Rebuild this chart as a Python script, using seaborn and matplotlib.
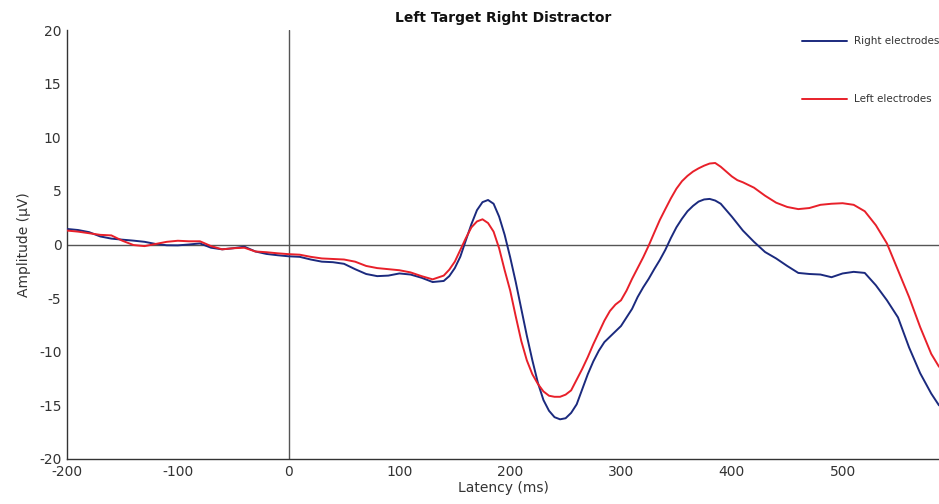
import numpy as np
import pandas as pd
import matplotlib
matplotlib.use("Agg")
import matplotlib.pyplot as plt
import seaborn as sns

# ---- data ----
latency_ms = ([-200, -190, -180, -170, -160, -150, -140, -130, -120, -110,
               -100, -90, -80, -70, -60, -50, -40, -30, -20, -10,
               0, 10, 20, 30, 40, 50, 60, 70, 80, 90,
               100, 110, 120, 130]
              + [140, 145, 150, 155, 160, 165, 170, 175, 180, 185,
                 190, 195, 200, 205, 210, 215, 220, 225, 230, 235,
                 240, 245, 250, 255, 260, 265, 270, 275, 280, 285,
                 290, 295, 300, 305, 310, 315, 320, 325, 330, 335,
                 340, 345, 350, 355, 360, 365, 370, 375, 380, 385,
                 390, 395, 400, 405, 410]
              + [420, 430, 440, 450, 460, 470, 480, 490, 500, 510,
                 520, 530, 540, 550, 560, 570, 580, 587])

right_electrodes = ([1.45, 1.35, 1.15, 0.75, 0.55, 0.45, 0.36, 0.25, 0.05, -0.07,
                     -0.08, 0.0, 0.1, -0.3, -0.45, -0.35, -0.2, -0.65, -0.88, -1.0,
                     -1.1, -1.15, -1.4, -1.6, -1.65, -1.8, -2.3, -2.75, -2.95, -2.9,
                     -2.7, -2.8, -3.1, -3.5]
                    + [-3.4, -2.95, -2.2, -1.13, 0.4, 1.9, 3.2, 3.95, 4.15, 3.8,
                       2.6, 0.9, -1.2, -3.5, -6.0, -8.5, -10.8, -12.9, -14.5, -15.5,
                       -16.1, -16.3, -16.2, -15.7, -14.9, -13.5, -12.1, -10.9, -9.9, -9.1,
                       -8.6, -8.1, -7.6, -6.8, -6.0, -4.9, -4.0, -3.2, -2.3, -1.45,
                       -0.5, 0.6, 1.6, 2.4, 3.1, 3.6, 4.0, 4.2, 4.25, 4.1,
                       3.8, 3.2, 2.6, 1.95, 1.3]
                    + [0.25, -0.7, -1.3, -2.0, -2.65, -2.75, -2.8, -3.05, -2.7, -2.55,
                       -2.65, -3.8, -5.2, -6.8, -9.6, -12.0, -13.9, -15.0])

left_electrodes = ([1.3, 1.2, 1.05, 0.9, 0.85, 0.35, -0.05, -0.15, 0.05, 0.25,
                    0.35, 0.3, 0.3, -0.15, -0.45, -0.35, -0.3, -0.65, -0.72, -0.82,
                    -0.9, -0.95, -1.15, -1.3, -1.35, -1.4, -1.6, -2.0, -2.2, -2.3,
                    -2.4, -2.6, -2.95, -3.25]
                   + [-2.9, -2.35, -1.6, -0.5, 0.6, 1.6, 2.15, 2.35, 2.0, 1.2,
                      -0.35, -2.4, -4.3, -6.7, -9.0, -10.8, -12.1, -13.0, -13.7, -14.1,
                      -14.2, -14.2, -14.0, -13.6, -12.6, -11.6, -10.5, -9.3, -8.2, -7.1,
                      -6.2, -5.6, -5.2, -4.3, -3.2, -2.2, -1.2, -0.1, 1.1, 2.28,
                      3.3, 4.3, 5.2, 5.9, 6.4, 6.8, 7.1, 7.35, 7.55, 7.6,
                      7.25, 6.8, 6.35, 6.0, 5.8]
                   + [5.3, 4.55, 3.9, 3.5, 3.3, 3.4, 3.7, 3.8, 3.85, 3.7,
                      3.1, 1.8, 0.1, -2.4, -4.9, -7.7, -10.2, -11.4])

series_names = ["Right electrodes", "Left electrodes"]
series_colors = ["#1b2a7e", "#e8202a"]

x_ticks = [-200, -100, 0, 100, 200, 300, 400, 500]
y_ticks = [-20, -15, -10, -5, 0, 5, 10, 15, 20]

df = pd.concat([
    pd.DataFrame({"Latency": latency_ms, "Amplitude": right_electrodes, "Series": series_names[0]}),
    pd.DataFrame({"Latency": latency_ms, "Amplitude": left_electrodes, "Series": series_names[1]}),
], ignore_index=True)

# ---- style ----
sns.set_style("white")
plt.rcParams["font.family"] = ["DejaVu Sans"]
text_col = "#333333"
plt.rcParams.update({
    "axes.unicode_minus": False,
    "xtick.direction": "in", "ytick.direction": "in",
    "xtick.color": "#333333", "ytick.color": "#333333",
    "xtick.labelcolor": text_col, "ytick.labelcolor": text_col,
})

fig = plt.figure(figsize=(9.39, 5.04), dpi=100)
ax = fig.add_axes([67 / 939, 45 / 504, 872 / 939, 429 / 504])

# reference lines at zero
ax.axhline(0, color="#555555", lw=1.0, zorder=1)
ax.axvline(0, color="#555555", lw=1.0, zorder=1)

sns.lineplot(data=df, x="Latency", y="Amplitude", hue="Series",
             hue_order=series_names, palette=series_colors,
             linewidth=1.4, ax=ax, zorder=3, sort=True)

ax.set_xlim(-200, 587)
ax.set_ylim(-20, 20)
ax.set_xticks(x_ticks)
ax.set_yticks(y_ticks)
ax.tick_params(axis="both", length=5, width=0.8, labelsize=10, pad=4)

for side in ["top", "right"]:
    ax.spines[side].set_visible(False)
for side in ["left", "bottom"]:
    ax.spines[side].set_color("#333333")
    ax.spines[side].set_linewidth(1.0)

ax.set_xlabel("Latency (ms)", fontsize=10, color=text_col, labelpad=2)
ax.set_ylabel("Amplitude (\u00b5V)", fontsize=10, color=text_col, labelpad=6)
ax.set_title("Left Target Right Distractor", fontsize=10, fontweight="bold",
             color="#111111", pad=6)

leg = ax.legend(loc="upper right", bbox_to_anchor=(1.0, 0.985), frameon=False,
                fontsize=7.5, handlelength=4.4, handletextpad=0.6,
                labelspacing=4.6, borderaxespad=0, borderpad=0)
for t in leg.get_texts():
    t.set_color(text_col)

fig.savefig("out.png", dpi=100)
